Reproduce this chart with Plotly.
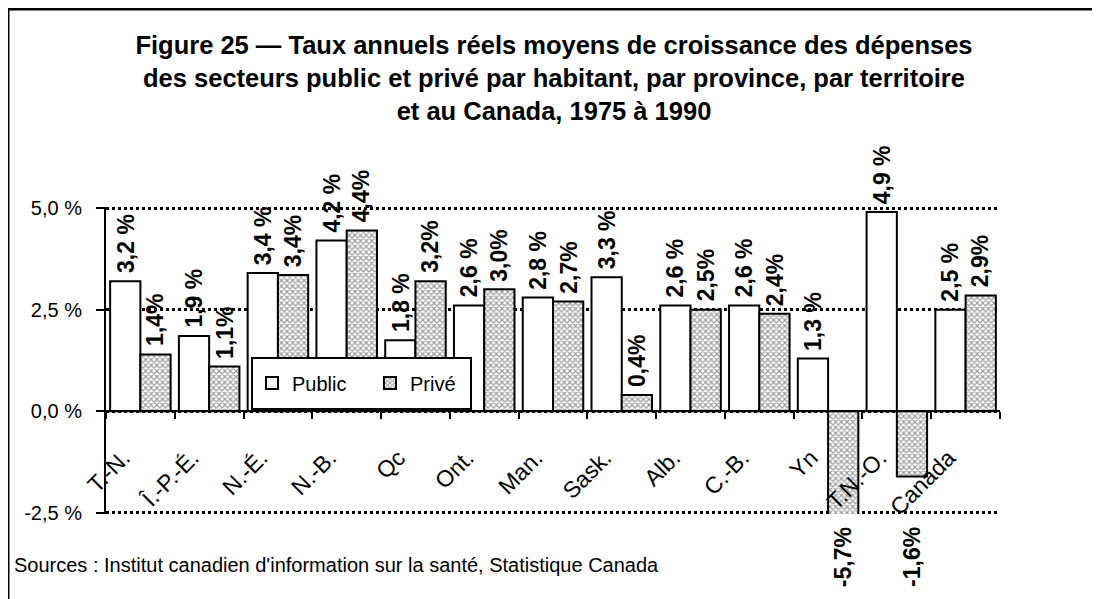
import plotly.graph_objects as go

categories = ["T.-N.", "Î.-P.-É.", "N.-É.", "N.-B.", "Qc", "Ont.", "Man.", "Sask.",
              "Alb.", "C.-B.", "Yn", "T.N.-O.", "Canada"]
public_vals = [3.2, 1.85, 3.4, 4.2, 1.75, 2.6, 2.8, 3.3, 2.6, 2.6, 1.3, 4.9, 2.5]
public_labels = ["3,2 %", "1,9 %", "3,4 %", "4,2 %", "1,8 %", "2,6 %", "2,8 %", "3,3 %",
                 "2,6 %", "2,6 %", "1,3 %", "4,9 %", "2,5 %"]
prive_vals = [1.4, 1.1, 3.35, 4.45, 3.2, 3.0, 2.7, 0.4, 2.5, 2.4, -5.7, -1.6, 2.85]
prive_labels = ["1,4%", "1,1%", "3,4%", "4,4%", "3,2%", "3,0%", "2,7%", "0,4%",
                "2,5%", "2,4%", "-5,7%", "-1,6%", "2,9%"]
y_tickvals = [-2.5, 0, 2.5, 5]
y_ticktext = ["-2,5 %", "0,0 %", "2,5 %", "5,0 %"]
Y_MIN, Y_MAX = -2.5, 5.0
PAD = 0.025

FONT = "Liberation Sans, Arial, sans-serif"
OFF = 8  # page body margin
W, H = 1100 - OFF, 599 - OFF
# target page pixels: y axis at x=106, right end 1000, 5.0 at y=208, -2.5 at y=513
UNIT = (513 - 208) / (Y_MAX - Y_MIN)
ML = 106 - OFF
MR = W - (1000 - OFF)
MT = round(208 - OFF - PAD * UNIT)
MB = H - round(513 - OFF + PAD * UNIT)
PW, PH = W - ML - MR, H - MT - MB


def px_x(p):
    return (p - OFF - ML) / PW


def px_y(p):
    return (H - MB - (p - OFF)) / PH


fig = go.Figure()
fig.add_trace(go.Bar(
    x=categories, y=public_vals, name="Public",
    marker=dict(color="white", line=dict(color="black", width=2)),
))
fig.add_trace(go.Bar(
    x=categories, y=prive_vals, name="Privé",
    marker=dict(color="white", line=dict(color="black", width=2),
                pattern=dict(shape="x", size=4, solidity=0.5,
                             fgcolor="#3a3a3a", bgcolor="white", fillmode="overlay")),
))

gap = 0.12
off = (1 - gap) / 4
lab_font = dict(family=FONT, size=23, color="black", weight="bold")
annotations = []
for i, cat in enumerate(categories):
    for vals, labels, sign in ((public_vals, public_labels, -1), (prive_vals, prive_labels, 1)):
        v = vals[i]
        if v >= 0:
            annotations.append(dict(x=i + sign * off, y=v, xref="x", yref="y",
                                    text=labels[i], textangle=-90, showarrow=False,
                                    yanchor="bottom", yshift=6, font=lab_font))
        else:
            annotations.append(dict(x=i + sign * off, y=Y_MIN, xref="x", yref="y",
                                    text=labels[i], textangle=-90, showarrow=False,
                                    yanchor="top", yshift=-12, font=lab_font))

annotations.append(dict(
    x=px_x(12), y=px_y(565), xref="paper", yref="paper", xanchor="left", yanchor="middle",
    text="Sources : Institut canadien d'information sur la santé, Statistique Canada",
    showarrow=False, font=dict(family=FONT, size=20, color="black")))

shapes = [
    dict(type="line", xref="paper", yref="paper", x0=px_x(8), x1=px_x(1100),
         y0=px_y(9), y1=px_y(9), line=dict(color="black", width=3)),
    dict(type="line", xref="paper", yref="paper", x0=px_x(8), x1=px_x(8),
         y0=px_y(9), y1=px_y(599), line=dict(color="black", width=3)),
    # legend frame
    dict(type="rect", xref="paper", yref="paper", layer="above",
         x0=px_x(252), x1=px_x(471), y0=px_y(358), y1=px_y(409),
         fillcolor="white", line=dict(color="black", width=2)),
]

fig.update_layout(
    width=W, height=H,
    margin=dict(l=ML, r=MR, t=MT, b=MB, autoexpand=False),
    paper_bgcolor="white", plot_bgcolor="white",
    barmode="group", bargap=gap, bargroupgap=0,
    font=dict(family=FONT, color="black"),
    title=dict(
        text="Figure 25 — Taux annuels réels moyens de croissance des dépenses<br>"
             "des secteurs public et privé par habitant, par province, par territoire<br>"
             "et au Canada, 1975 à 1990",
        x=0.5, xref="container", xanchor="center",
        y=1 - 46 / H, yref="container", yanchor="top",
        font=dict(family=FONT, size=25.5, color="black", weight="bold")),
    xaxis=dict(
        type="category", anchor="free",
        position=(0 - (Y_MIN - PAD)) / (Y_MAX - Y_MIN + 2 * PAD),
        showline=True, linecolor="black", linewidth=2,
        ticks="outside", tickson="boundaries", ticklen=7, tickwidth=2, tickcolor="black",
        tickangle=-45, tickfont=dict(family=FONT, size=23, color="black"),
        ticklabelstandoff=23, ticklabelshift=-17,
        showgrid=False, automargin=False, range=[-0.5, len(categories) - 0.5],
    ),
    yaxis=dict(
        range=[Y_MIN - PAD, Y_MAX + PAD], tickvals=y_tickvals, ticktext=y_ticktext,
        showline=True, linecolor="black", linewidth=2,
        ticks="outside", ticklen=8, tickwidth=2, tickcolor="black",
        tickfont=dict(family=FONT, size=20, color="black"), ticklabelstandoff=10,
        showgrid=True, gridcolor="black", gridwidth=3, griddash="dot",
        zeroline=False, automargin=False,
    ),
    legend=dict(
        orientation="h", x=px_x(252), y=px_y(383), xanchor="left", yanchor="middle",
        bgcolor="rgba(0,0,0,0)", borderwidth=0,
        font=dict(family=FONT, size=20, color="black"),
        entrywidth=73, itemwidth=30,
    ),
    annotations=annotations,
    shapes=shapes,
)

fig.write_html("out.html")
